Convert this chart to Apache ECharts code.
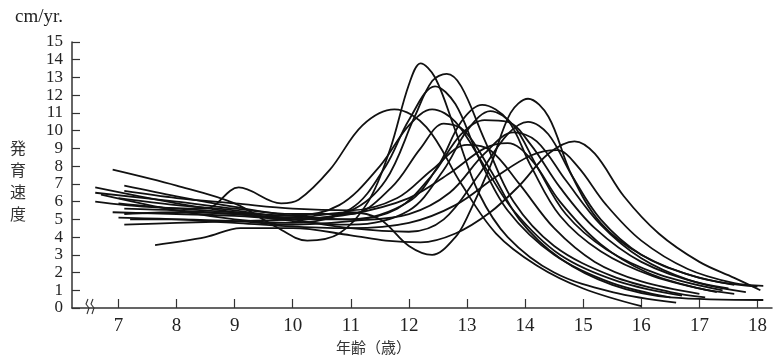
<!DOCTYPE html>
<html>
<head>
<meta charset="utf-8">
<script src="https://cdn.jsdelivr.net/npm/echarts@6/dist/echarts.min.js"></script>
<style>
  html, body { margin: 0; padding: 0; background: #fff; }
  #main { width: 774px; height: 360px; }
</style>
</head>
<body>
<div id="main"></div>
<script>
// 年齢（歳）の目盛り
let ageTicks = [7, 8, 9, 10, 11, 12, 13, 14, 15, 16, 17, 18];

// 各個人の発育速度曲線 [年齢, cm/yr]
let curve1 = [[6.6,6.0],[7.5,5.7],[8.5,5.6],[9.07,6.8],[9.8,5.9],[10.1,6.1],[10.64,7.8],[11.2,10.3],[11.75,11.2],[12.3,10.2],[12.9,7.0],[13.5,4.2],[14.2,2.4],[15.0,1.1],[16.0,0.1]];
let curve2 = [[6.9,7.8],[8.0,6.9],[9.0,5.9],[9.7,4.6],[10.25,3.8],[10.8,4.2],[11.3,6.0],[11.67,8.9],[12.0,12.6],[12.2,13.8],[12.45,13.0],[12.8,10.0],[13.2,6.5],[13.7,4.0],[14.5,2.0],[15.5,0.9],[16.6,0.3]];
let curve3 = [[6.6,6.8],[8.0,5.9],[9.0,5.4],[10.0,5.0],[11.0,5.5],[11.6,7.2],[12.1,10.8],[12.4,12.8],[12.65,13.2],[12.9,12.5],[13.3,9.5],[13.8,6.0],[14.5,3.5],[15.5,1.8],[16.5,0.9],[17.1,0.6]];
let curve4 = [[6.7,6.4],[8.0,5.5],[9.0,5.0],[10.0,4.8],[11.0,5.6],[11.6,8.0],[12.0,10.6],[12.45,12.5],[12.8,11.5],[13.2,8.5],[13.7,5.5],[14.5,3.0],[15.5,1.4],[16.5,0.6]];
let curve5 = [[7.0,5.9],[8.0,5.6],[9.0,5.4],[10.0,5.2],[10.8,5.8],[11.5,8.0],[12.0,10.3],[12.4,11.2],[12.8,10.5],[13.3,8.0],[13.8,5.5],[14.6,3.0],[15.6,1.5],[16.7,0.7]];
let curve6 = [[7.1,6.9],[8.0,6.3],[9.0,5.7],[10.0,5.2],[11.0,5.0],[12.0,6.0],[12.5,8.0],[12.9,10.5],[13.26,11.45],[13.7,10.6],[14.1,8.0],[14.6,5.2],[15.3,3.2],[16.2,1.8],[17.3,0.9]];
let curve7 = [[7.1,5.3],[8.0,5.4],[9.0,5.3],[10.0,4.9],[11.0,4.7],[12.0,5.5],[12.6,7.8],[13.0,10.0],[13.4,11.1],[13.8,10.3],[14.2,8.0],[14.7,5.3],[15.4,3.3],[16.3,1.9],[17.4,1.0]];
let curve8 = [[7.1,5.6],[8.0,5.5],[9.0,5.3],[10.0,5.1],[11.0,5.4],[11.5,5.0],[12.0,3.5],[12.4,3.0],[12.8,4.0],[13.0,5.1],[13.4,8.0],[13.75,11.0],[14.05,11.8],[14.4,10.8],[14.8,7.5],[15.3,4.8],[16.0,3.0],[17.0,1.7],[18.0,1.2]];
let curve9 = [[7.0,6.2],[8.0,5.8],[9.0,5.5],[10.0,5.0],[11.0,4.5],[12.0,4.3],[12.6,5.0],[13.2,7.5],[13.7,9.8],[14.05,10.5],[14.4,9.8],[14.8,7.5],[15.3,5.0],[16.0,3.0],[16.8,1.9],[17.6,1.3]];
let curve10 = [[7.63,3.55],[8.5,4.0],[9.1,4.5],[10.0,4.5],[11.0,4.1],[11.6,3.8],[12.2,3.7],[12.8,4.2],[13.4,5.4],[13.9,6.9],[14.4,8.7],[14.85,9.4],[15.2,8.7],[15.7,6.3],[16.3,4.2],[17.0,2.6],[17.6,1.7],[18.05,1.0]];
let curve11 = [[6.9,5.4],[8.0,5.3],[9.0,5.2],[10.0,5.0],[11.0,5.0],[11.8,5.6],[12.4,7.5],[12.9,9.8],[13.3,10.6],[13.7,10.5],[14.1,9.2],[14.6,6.8],[15.2,4.5],[16.0,2.6],[17.0,1.4],[17.8,0.9]];
let curve12 = [[7.0,5.1],[8.0,5.0],[9.0,4.8],[10.0,4.6],[11.0,4.5],[12.0,4.8],[12.8,5.8],[13.5,7.4],[14.1,8.6],[14.55,8.9],[14.9,8.0],[15.4,5.8],[16.0,3.8],[16.8,2.2],[17.6,1.4],[18.1,1.25]];
let curve13 = [[7.1,6.6],[8.0,6.2],[9.0,5.9],[10.0,5.6],[11.0,5.5],[11.8,6.2],[12.4,7.8],[13.0,9.2],[13.4,8.9],[13.9,7.0],[14.5,4.5],[15.2,2.6],[16.0,1.5],[17.0,0.8]];
let curve14 = [[7.2,5.0],[8.0,5.0],[9.0,4.9],[10.0,4.7],[11.0,4.9],[12.0,5.3],[12.7,6.5],[13.3,8.7],[13.8,9.9],[14.2,9.4],[14.7,7.2],[15.3,4.7],[16.0,2.8],[16.8,1.6],[17.5,1.1]];
let curve15 = [[6.6,6.5],[8.0,6.0],[9.0,5.6],[10.0,5.3],[11.0,5.3],[11.7,6.8],[12.2,9.0],[12.6,10.4],[12.95,10.0],[13.4,7.8],[13.9,5.0],[14.6,2.8],[15.5,1.3],[16.5,0.6],[18.1,0.45]];
let curve16 = [[7.1,4.7],[8.0,4.8],[9.0,4.9],[10.0,5.0],[11.0,5.3],[12.0,6.2],[12.7,7.6],[13.3,9.0],[13.7,9.3],[14.1,8.4],[14.6,6.0],[15.3,3.6],[16.1,2.0],[17.0,1.1],[17.6,0.8]];

let curves = [curve1, curve2, curve3, curve4, curve5, curve6, curve7, curve8,
              curve9, curve10, curve11, curve12, curve13, curve14, curve15, curve16];

let container = document.getElementById('main');
let chart = echarts.init(container);

let mySeries = [];
curves.forEach((c, i) => {
    mySeries.push({
        name: 'c' + (i + 1),
        type: 'line',
        data: c,
        smooth: 0.35,
        showSymbol: false,
        silent: true,
        lineStyle: { color: '#111', width: 1.8 }
    });
});

const option = {
    animation: false,
    backgroundColor: '#fff',
    grid: { left: 72, right: 2, top: 42, bottom: 52 },
    xAxis: {
        type: 'value',
        min: 6.2,
        max: 18.25,
        splitLine: { show: false },
        axisLine: { lineStyle: { color: '#333', width: 1.5 } },
        axisTick: {
            inside: true,
            length: 9,
            customValues: ageTicks,
            lineStyle: { color: '#333', width: 1.2 }
        },
        axisLabel: {
            customValues: ageTicks,
            margin: 9,
            color: '#222',
            fontSize: 19,
            fontFamily: 'Liberation Serif'
        }
    },
    yAxis: {
        type: 'value',
        min: 0,
        max: 15,
        interval: 1,
        splitLine: { show: false },
        axisLine: { show: true, lineStyle: { color: '#333', width: 1.5 } },
        axisTick: { show: true, inside: true, length: 8, lineStyle: { color: '#333', width: 1.2 } },
        axisLabel: {
            margin: 9,
            color: '#222',
            fontSize: 17,
            lineHeight: 12,
            showMinLabel: true,
            showMaxLabel: true,
            hideOverlap: false,
            fontFamily: 'Liberation Serif'
        }
    },
    graphic: [
        {
            type: 'text', left: 15, top: 8,
            style: { text: 'cm/yr.', fontSize: 19, fontFamily: 'Liberation Serif', fill: '#222' }
        },
        {
            type: 'text', left: 10, top: 137,
            style: { text: '発\n育\n速\n度', fontSize: 16, lineHeight: 22, fontFamily: 'Noto Sans CJK JP', fill: '#333' }
        },
        {
            type: 'text', left: 336, top: 340,
            style: { text: '年齢（歳）', fontSize: 15, fontFamily: 'Noto Sans CJK JP', fill: '#333' }
        },
        // 軸の省略記号
        {
            type: 'rect', shape: { x: 86, y: 303, width: 8, height: 10 },
            style: { fill: '#fff' }
        },
        {
            type: 'polyline', shape: { points: [[88, 299], [86, 304], [89, 308], [87, 314]] },
            style: { stroke: '#333', lineWidth: 1.1, fill: null }
        },
        {
            type: 'polyline', shape: { points: [[93, 299], [91, 304], [94, 308], [92, 314]] },
            style: { stroke: '#333', lineWidth: 1.1, fill: null }
        }
    ],
    series: mySeries
};
chart.setOption(option);
</script>
</body>
</html>
